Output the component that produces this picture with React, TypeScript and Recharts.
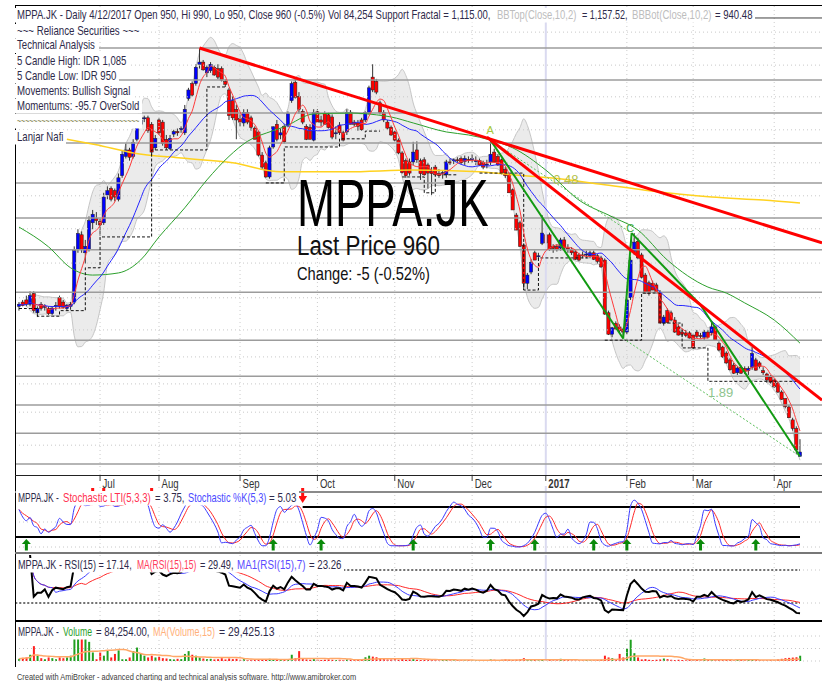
import React from "react";
import {
  ComposedChart,
  Bar,
  Line,
  Area,
  Scatter,
  XAxis,
  YAxis,
  ReferenceLine,
} from "recharts";

// MPPA.JK daily bars, Jun 2016 .. 12 Apr 2017 (one entry per trading day)
const opens = [
  1300, 1310, 1315, 1305, 1330, 1285, 1305, 1298, 1295, 1283,
  1300, 1320, 1310, 1295, 1300, 1310, 1432, 1467, 1425, 1432,
  1495, 1505, 1498, 1495, 1560, 1575, 1570, 1550, 1605, 1650,
  1665, 1650, 1690, 1725, 1738, 1740, 1725, 1670, 1735, 1730,
  1690, 1668, 1702, 1708, 1712, 1705, 1785, 1820, 1820, 1865,
  1870, 1845, 1850, 1858, 1855, 1855, 1825, 1805, 1780, 1760,
  1738, 1728, 1752, 1740, 1716, 1707, 1653, 1635, 1602, 1672,
  1725, 1700, 1720, 1723, 1780, 1823, 1790, 1755, 1720, 1718,
  1688, 1754, 1735, 1750, 1747, 1742, 1705, 1723, 1705, 1707,
  1752, 1730, 1728, 1735, 1735, 1752, 1835, 1825, 1775, 1752,
  1730, 1718, 1707, 1688, 1658, 1640, 1637, 1637, 1665, 1640,
  1642, 1630, 1615, 1625, 1610, 1610, 1607, 1637, 1640, 1642,
  1645, 1638, 1643, 1642, 1640, 1640, 1635, 1630, 1637, 1660,
  1650, 1642, 1620, 1608, 1572, 1513, 1495, 1443, 1354, 1380,
  1425, 1418, 1447, 1467, 1467, 1440, 1440, 1436, 1455, 1436,
  1432, 1427, 1420, 1420, 1420, 1418, 1425, 1418, 1413, 1408,
  1285, 1235, 1260, 1252, 1247, 1240, 1320, 1428, 1452, 1420,
  1373, 1355, 1354, 1350, 1333, 1261, 1290, 1285, 1268, 1252,
  1240, 1238, 1238, 1233, 1240, 1232, 1228, 1240, 1238, 1252,
  1214, 1205, 1191, 1175, 1163, 1145, 1158, 1155, 1150, 1158,
  1175, 1168, 1150, 1142, 1135, 1128, 1121, 1100, 1085, 1065,
  1035, 1015, 950,
];
const highs = [
  1310, 1315, 1325, 1335, 1335, 1300, 1310, 1305, 1300, 1300,
  1310, 1325, 1315, 1305, 1310, 1440, 1480, 1475, 1455, 1510,
  1525, 1520, 1505, 1565, 1580, 1580, 1575, 1610, 1665, 1680,
  1670, 1690, 1725, 1745, 1745, 1745, 1730, 1700, 1740, 1735,
  1700, 1700, 1712, 1715, 1720, 1770, 1810, 1825, 1865, 1903,
  1875, 1862, 1870, 1862, 1865, 1860, 1830, 1810, 1790, 1770,
  1750, 1760, 1760, 1745, 1720, 1710, 1660, 1640, 1675, 1720,
  1735, 1715, 1725, 1755, 1825, 1830, 1800, 1760, 1725, 1725,
  1760, 1760, 1745, 1755, 1752, 1748, 1720, 1730, 1710, 1760,
  1758, 1735, 1735, 1740, 1755, 1815, 1865, 1830, 1780, 1758,
  1735, 1722, 1710, 1692, 1662, 1645, 1645, 1684, 1685, 1645,
  1648, 1635, 1625, 1630, 1620, 1618, 1642, 1645, 1645, 1648,
  1650, 1652, 1650, 1655, 1650, 1645, 1640, 1642, 1688, 1668,
  1655, 1645, 1625, 1612, 1575, 1518, 1500, 1447, 1378, 1410,
  1430, 1425, 1513, 1475, 1472, 1445, 1445, 1460, 1462, 1445,
  1438, 1432, 1425, 1428, 1430, 1430, 1430, 1422, 1418, 1412,
  1290, 1252, 1265, 1258, 1250, 1320, 1415, 1471, 1460, 1425,
  1378, 1360, 1360, 1355, 1338, 1280, 1295, 1290, 1275, 1258,
  1245, 1245, 1242, 1236, 1245, 1238, 1245, 1245, 1262, 1255,
  1218, 1208, 1195, 1180, 1168, 1160, 1162, 1160, 1160, 1205,
  1180, 1172, 1158, 1145, 1140, 1132, 1125, 1104, 1085, 1070,
  1040, 1020, 990,
];
const lows = [
  1290, 1300, 1300, 1300, 1285, 1275, 1290, 1290, 1280, 1280,
  1290, 1295, 1295, 1290, 1292, 1305, 1425, 1425, 1400, 1428,
  1480, 1490, 1465, 1490, 1550, 1545, 1545, 1545, 1600, 1645,
  1640, 1645, 1685, 1720, 1730, 1705, 1650, 1665, 1700, 1675,
  1665, 1665, 1695, 1698, 1705, 1700, 1780, 1790, 1815, 1855,
  1850, 1835, 1845, 1838, 1830, 1825, 1812, 1735, 1735, 1690,
  1720, 1720, 1725, 1710, 1690, 1650, 1620, 1600, 1598, 1668,
  1685, 1690, 1680, 1718, 1775, 1785, 1750, 1725, 1688, 1690,
  1685, 1730, 1720, 1725, 1715, 1690, 1690, 1700, 1685, 1700,
  1725, 1720, 1710, 1710, 1730, 1748, 1800, 1795, 1748, 1730,
  1712, 1698, 1685, 1655, 1610, 1600, 1605, 1630, 1635, 1595,
  1605, 1575, 1560, 1605, 1600, 1598, 1600, 1630, 1632, 1635,
  1632, 1630, 1635, 1635, 1630, 1628, 1620, 1622, 1630, 1635,
  1628, 1608, 1600, 1565, 1525, 1478, 1439, 1338, 1340, 1375,
  1408, 1410, 1443, 1445, 1430, 1425, 1428, 1430, 1432, 1425,
  1420, 1408, 1405, 1412, 1412, 1412, 1408, 1400, 1390, 1280,
  1233, 1228, 1245, 1240, 1228, 1235, 1315, 1420, 1410, 1365,
  1330, 1325, 1338, 1330, 1260, 1255, 1260, 1265, 1238, 1232,
  1228, 1228, 1225, 1200, 1226, 1225, 1222, 1225, 1232, 1220,
  1195, 1180, 1166, 1150, 1142, 1140, 1142, 1142, 1140, 1152,
  1150, 1155, 1140, 1122, 1120, 1110, 1098, 1082, 1062, 1040,
  1010, 955, 950,
];
const closes = [
  1305, 1302, 1305, 1325, 1290, 1295, 1295, 1300, 1283, 1296,
  1302, 1300, 1298, 1303, 1305, 1430, 1470, 1432, 1440, 1500,
  1515, 1500, 1490, 1555, 1570, 1550, 1555, 1600, 1655, 1665,
  1648, 1682, 1720, 1735, 1740, 1710, 1660, 1692, 1705, 1680,
  1670, 1692, 1708, 1705, 1715, 1760, 1805, 1793, 1858, 1870,
  1852, 1858, 1865, 1840, 1835, 1828, 1818, 1745, 1740, 1735,
  1730, 1752, 1730, 1718, 1690, 1653, 1625, 1602, 1670, 1719,
  1690, 1705, 1684, 1750, 1820, 1788, 1760, 1730, 1690, 1690,
  1752, 1730, 1730, 1725, 1717, 1695, 1705, 1705, 1688, 1752,
  1725, 1725, 1720, 1712, 1752, 1810, 1805, 1800, 1752, 1735,
  1716, 1700, 1688, 1658, 1612, 1605, 1611, 1660, 1642, 1610,
  1607, 1611, 1610, 1607, 1605, 1612, 1637, 1635, 1642, 1640,
  1635, 1645, 1640, 1645, 1640, 1630, 1625, 1632, 1655, 1637,
  1630, 1610, 1605, 1565, 1525, 1478, 1440, 1354, 1373, 1403,
  1408, 1418, 1471, 1448, 1432, 1435, 1432, 1455, 1436, 1432,
  1425, 1410, 1408, 1418, 1422, 1425, 1410, 1405, 1392, 1282,
  1235, 1250, 1247, 1243, 1240, 1315, 1408, 1450, 1413, 1368,
  1331, 1330, 1338, 1333, 1261, 1275, 1262, 1268, 1240, 1233,
  1235, 1232, 1226, 1203, 1230, 1230, 1240, 1228, 1252, 1221,
  1198, 1182, 1168, 1152, 1144, 1156, 1144, 1148, 1155, 1190,
  1151, 1160, 1145, 1128, 1123, 1112, 1100, 1083, 1066, 1040,
  1015, 965, 960,
];
const volumes = [
  35000, 50000, 57000, 100000, 238000, 85000, 45000, 28000, 57000, 45000,
  28000, 57000, 45000, 57000, 85000, 357000, 369000, 357000, 357000, 306000,
  136000, 28000, 136000, 85000, 170000, 57000, 113000, 170000, 28000, 28000,
  57000, 158000, 215000, 113000, 85000, 57000, 85000, 57000, 68000, 45000,
  40000, 30000, 25000, 35000, 30000, 113000, 158000, 100000, 85000, 57000,
  40000, 30000, 35000, 25000, 30000, 45000, 25000, 40000, 30000, 35000,
  20000, 30000, 15000, 20000, 25000, 30000, 25000, 20000, 35000, 28000,
  15000, 15000, 20000, 30000, 100000, 45000, 158000, 30000, 25000, 20000,
  30000, 20000, 15000, 20000, 25000, 20000, 15000, 20000, 15000, 25000,
  20000, 15000, 20000, 25000, 60000, 85000, 70000, 60000, 40000, 30000,
  25000, 25000, 30000, 20000, 35000, 20000, 25000, 30000, 20000, 15000,
  20000, 15000, 25000, 15000, 10000, 15000, 20000, 10000, 10000, 15000,
  10000, 10000, 15000, 10000, 10000, 15000, 10000, 15000, 25000, 20000,
  15000, 20000, 25000, 20000, 15000, 20000, 25000, 45000, 20000, 15000,
  20000, 10000, 30000, 20000, 15000, 10000, 10000, 35000, 25000, 15000,
  10000, 10000, 10000, 10000, 15000, 10000, 10000, 15000, 20000, 85000,
  57000, 45000, 25000, 113000, 57000, 200000, 340000, 125000, 57000, 25000,
  30000, 20000, 15000, 20000, 25000, 40000, 30000, 20000, 15000, 20000,
  15000, 10000, 15000, 20000, 15000, 10000, 40000, 20000, 30000, 15000,
  20000, 15000, 20000, 15000, 10000, 25000, 15000, 10000, 15000, 20000,
  20000, 15000, 10000, 10000, 15000, 15000, 25000, 35000, 45000, 50000,
  55000, 60000, 84254,
];

// date strip
const monthIdx = [22, 38, 60, 81, 102, 123, 143, 165, 183, 205];
const monthLabels = ["Jul", "Aug", "Sep", "Oct", "Nov", "Dec", "2017", "Feb", "Mar", "Apr"];

// slow averages at a few bars
const ma50Idx = [0, 8, 14, 20, 27, 33, 38, 45, 51, 57, 62, 69, 72, 80, 90, 97, 101, 107, 116, 122, 128, 134, 143, 152, 161, 168, 176, 187, 192, 197, 205, 212];
const ma50Val = [1485, 1439, 1390, 1373, 1378, 1408, 1462, 1530, 1595, 1650, 1685, 1710, 1719, 1749, 1751, 1747, 1742, 1728, 1707, 1700, 1688, 1670, 1618, 1548, 1509, 1478, 1408, 1345, 1331, 1308, 1268, 1214];
const ma200Idx = [13, 21, 31, 44, 58, 71, 89, 107, 125, 134, 144, 158, 170, 188, 202, 212];
const ma200Val = [1690, 1677, 1658, 1646, 1635, 1614, 1614, 1618, 1614, 1607, 1600, 1585, 1571, 1555, 1548, 1541];

// support fractal steps: [first bar, last bar, level]
const supportSteps = [
  [0, 4, 1295], [5, 10, 1277], [11, 17, 1290], [18, 21, 1390], [22, 35, 1462],
  [36, 50, 1665], [51, 56, 1812], [67, 71, 1588], [72, 86, 1672], [87, 93, 1691],
  [94, 98, 1709], [104, 109, 1602], [110, 112, 1565], [113, 119, 1607], [125, 136, 1611],
  [137, 140, 1338], [141, 155, 1413], [159, 168, 1221], [169, 173, 1331], [174, 179, 1261],
  [180, 186, 1203], [187, 212, 1125],
];

// horizontal price levels
const solidLevels = [1903, 1828, 1751, 1681, 1588, 1506, 1432, 1333, 1221, 1137, 1070, 1004, 932];
const dottedLevels = [1940, 1863, 1789, 1712, 1635, 1558, 1481, 1401, 1320, 1245, 1182, 1119, 1053, 976];

// trendlines
const redTrends = [
  [49, 1903, 217.97, 1448],
  [127, 1695, 217.97, 1081],
];
const waveIdx = [128, 164, 166.3, 185, 212];
const waveVal = [1688, 1225, 1471, 1303, 950];
const waveDotted = [
  [128, 1688, 166.3, 1471],
  [164, 1225, 212, 950],
];
const chartLabels = [
  { i: 127.9, v: 1702, text: "A", color: "#a6c838", size: 11, anchor: "middle" },
  { i: 165.9, v: 1474, text: "C", color: "#3aa83a", size: 11, anchor: "middle" },
  { i: 145, v: 1585, text: "0.48", color: "#b4c24a", size: 13, anchor: "start" },
  { i: 187, v: 1088, text: "1.89", color: "#8ec48e", size: 13, anchor: "start" },
];

// stochastic signals
const buyIdx = [2, 69, 82, 107, 128, 140, 156, 165, 185, 200];
const sellIdx = [77];
const sellHiddenIdx = [20, 23, 36];

const X_DOMAIN = [-1.086, 217.97];
const PRICE_DOMAIN = [906.4, 2003.3];
const FONT = "'Liberation Sans', Arial, sans-serif";
const DARK = "#2e2a4a";

// Arial / Liberation Sans advance widths (1/1000 em), used to squeeze texts to the reference widths
const GLYPH_W = {};
"ABCDEFGHIJKLMNOPQRSTUVWXYZ".split("").forEach((ch, k) => {
  GLYPH_W[ch] = [667, 667, 722, 722, 667, 611, 778, 722, 278, 500, 667, 556, 833, 722, 778, 667, 778, 722, 667, 611, 722, 667, 944, 667, 667, 611][k];
});
"abcdefghijklmnopqrstuvwxyz".split("").forEach((ch, k) => {
  GLYPH_W[ch] = [556, 556, 500, 556, 556, 278, 556, 556, 222, 222, 500, 222, 833, 556, 556, 556, 556, 333, 500, 278, 556, 500, 722, 500, 500, 500][k];
});
"0123456789".split("").forEach((ch) => (GLYPH_W[ch] = 556));
Object.assign(GLYPH_W, { " ": 278, "%": 889, "(": 333, ")": 333, ",": 278, "-": 333, ".": 278, "/": 278, ":": 278, "=": 584, "~": 584 });

function naturalWidth(s, size) {
  let w = 0;
  for (const ch of s) w += GLYPH_W[ch] ?? 556;
  return (w * size) / 1000;
}

function FitText({ x, y, w, size, fill, children }) {
  const sx = w / naturalWidth(children, size);
  return (
    <text transform={`translate(${x},${y}) scale(${sx.toFixed(4)},1)`} fontSize={size} fill={fill} fontFamily={FONT}>
      {children}
    </text>
  );
}

function sma(src, n) {
  return src.map((_, i) => {
    const w = src.slice(Math.max(0, i - n + 1), i + 1).filter((v) => v != null);
    return w.length ? w.reduce((a, b) => a + b, 0) / w.length : null;
  });
}

function rsiOf(c, n) {
  const out = [null];
  let ag = 0;
  let al = 0;
  for (let i = 1; i < c.length; i++) {
    const d = c[i] - c[i - 1];
    const g = Math.max(d, 0);
    const l = Math.max(-d, 0);
    const k = Math.min(i, n);
    ag = (ag * (k - 1) + g) / k;
    al = (al * (k - 1) + l) / k;
    out.push(i < 3 ? null : al === 0 ? 100 : 100 - 100 / (1 + ag / al));
  }
  return out;
}

const ma5 = sma(closes, 5);
const ma20 = sma(closes, 20);
const volMa = sma(volumes, 15);
const rsi = rsiOf(closes, 15);
const rsiMa15 = sma(rsi, 15);
const rsiMa7 = sma(rsi, 7);

const llv = closes.map((_, i) => Math.min(...lows.slice(Math.max(0, i - 4), i + 1)));
const hhv = closes.map((_, i) => Math.max(...highs.slice(Math.max(0, i - 4), i + 1)));
const stochK = closes.map((_, i) => {
  let a = 0;
  let b = 0;
  for (let k = Math.max(0, i - 2); k <= i; k++) {
    a += closes[k] - llv[k];
    b += hhv[k] - llv[k];
  }
  return b ? (100 * a) / b : 50;
});
const stochD = sma(stochK, 3);

const rows = closes.map((c, i) => {
  let bb = null;
  if (i >= 2) {
    const w = closes.slice(Math.max(0, i - 9), i + 1);
    const m = w.reduce((a, b) => a + b, 0) / w.length;
    const sd = Math.sqrt(w.reduce((a, b) => a + (b - m) * (b - m), 0) / w.length);
    bb = [m - 2 * sd, m + 2 * sd];
  }
  const step = supportSteps.find((s) => i >= s[0] && i <= s[1]);
  const g = ma50Idx.indexOf(i);
  const y = ma200Idx.indexOf(i);
  return {
    i,
    open: opens[i],
    high: highs[i],
    low: lows[i],
    close: c,
    range: [lows[i], highs[i]],
    ma5: i >= 4 ? ma5[i] : null,
    ma20: ma20[i],
    ma50: g >= 0 ? ma50Val[g] : null,
    ma200: y >= 0 ? ma200Val[y] : null,
    bb,
    support: step ? step[2] : null,
    vol: volumes[i],
    volMa: volMa[i],
    rsi: rsi[i],
    rsiMa15: rsiMa15[i],
    rsiMa7: rsiMa7[i],
    stochK: stochK[i],
    stochD: stochD[i],
  };
});

const buyPts = buyIdx.map((i) => ({ i, v: 4 }));
const sellPts = sellIdx.map((i) => ({ i, v: 102 }));
const sellHiddenPts = sellHiddenIdx.map((i) => ({ i, v: 110 }));

function Candle(props) {
  const { x, y, width, height, payload } = props;
  if (!payload || height == null) return null;
  const top = Math.min(y, y + height);
  const h = Math.abs(height);
  const span = payload.high - payload.low || 1;
  const yAt = (v) => top + ((payload.high - v) / span) * h;
  const cx = x + width / 2;
  const up = payload.close >= payload.open;
  const bTop = yAt(Math.max(payload.open, payload.close));
  const bH = Math.max(1, yAt(Math.min(payload.open, payload.close)) - bTop);
  return (
    <g>
      <line x1={cx} x2={cx} y1={top} y2={top + h} stroke="#333" strokeWidth={1} />
      <rect x={cx - 1.6} y={bTop} width={3.2} height={bH} fill={up ? "#0000ff" : "#ff0000"} stroke="#222" strokeWidth={0.5} />
    </g>
  );
}

function VolBar(props) {
  const { x, y, width, height, payload } = props;
  if (!payload || !height) return null;
  const up = payload.close >= payload.open;
  return <rect x={x + width / 2 - 1} y={y} width={2} height={height} fill={up ? "#1fa01f" : "#ff2020"} />;
}

function UpArrow(props) {
  const { cx, cy } = props;
  return (
    <g fill="#0a8a0a">
      <polygon points={`${cx},${cy - 6} ${cx - 4.5},${cy - 1} ${cx + 4.5},${cy - 1}`} />
      <rect x={cx - 1.5} y={cy - 1.5} width={3} height={7} />
    </g>
  );
}

function DownArrow(props) {
  const { cx, cy } = props;
  return (
    <g fill="#ff1010">
      <rect x={cx - 1.5} y={cy - 8} width={3} height={8} />
      <polygon points={`${cx},${cy + 7} ${cx - 4.5},${cy} ${cx + 4.5},${cy}`} />
    </g>
  );
}

function SellStub(props) {
  const { cx, cy } = props;
  return <rect x={cx - 1.5} y={cy - 4} width={3} height={5} fill="#ff1010" />;
}

function ChartLabel(props) {
  const { cx, cy, payload } = props;
  return (
    <text x={cx} y={cy} fill={payload.color} fontSize={payload.size} textAnchor={payload.anchor} fontFamily={FONT}>
      {payload.text}
    </text>
  );
}

function MonthTick(props) {
  const { x, y, payload } = props;
  const label = monthLabels[monthIdx.indexOf(payload.value)];
  return (
    <g>
      <line x1={x} x2={x} y1={y + 1} y2={y + 6} stroke="#404040" />
      <text
        transform={`translate(${x + 2.5},${y + 12.5}) scale(0.8,1)`}
        fontSize={12}
        fontWeight={label === "2017" ? "bold" : "normal"}
        fill="#333"
        fontFamily={FONT}
      >
        {label}
      </text>
    </g>
  );
}

function monthLines(keyPrefix) {
  return monthIdx.map((m) =>
    m === 143 ? (
      <ReferenceLine key={keyPrefix + m} x={m} stroke="#dadaf0" strokeWidth={2} />
    ) : (
      <ReferenceLine key={keyPrefix + m} x={m} stroke="#cccccc" strokeDasharray="1 3" />
    )
  );
}

// one title row: white backing plus text pieces, each squeezed between x0 and x1
function TitleRow({ y, parts, size = 12, bg = true }) {
  const x0 = parts[0][2];
  const x1 = parts[parts.length - 1][3];
  return (
    <g>
      {bg && <rect x={x0 - 2} y={y - 10.5} width={x1 - x0 + 4} height={14.5} fill="#fff" />}
      {parts.map((p, k) => (
        <FitText key={k} x={p[2]} y={y} w={p[3] - p[2] - 0.5} size={size} fill={p[1]}>
          {p[0]}
        </FitText>
      ))}
    </g>
  );
}

const xBase = { dataKey: "i", type: "number", domain: X_DOMAIN, allowDataOverflow: true };

export default function App() {
  return (
    <div style={{ position: "absolute", left: 0, top: 0, width: 822, height: 681, background: "#fff", overflow: "hidden" }}>
      {/* price panel */}
      <div style={{ position: "absolute", left: 0, top: 0 }}>
        <ComposedChart width={822} height={492} data={rows} margin={{ top: 5, right: 0, bottom: 0, left: 15 }}>
          <XAxis
            {...xBase}
            ticks={monthIdx}
            interval={0}
            height={17}
            tickSize={0}
            tickMargin={0}
            axisLine={false}
            tickLine={false}
            tick={MonthTick}
          />
          <YAxis hide type="number" domain={PRICE_DOMAIN} allowDataOverflow />
          {dottedLevels.map((v) => (
            <ReferenceLine key={"d" + v} y={v} stroke="#c8c8c8" strokeDasharray="1 3" />
          ))}
          {monthLines("pm")}
          <Area dataKey="bb" type="monotone" stroke="#c6c6c6" fill="#e8e8e8" fillOpacity={0.85} isAnimationActive={false} />
          {solidLevels.map((v) => (
            <ReferenceLine key={"s" + v} y={v} stroke="#9c9c9c" strokeWidth={1.5} />
          ))}
          <ReferenceLine y={1973} stroke="#404040" />
          <Line dataKey="ma200" type="monotone" stroke="#ffd21f" strokeWidth={1.5} dot={false} connectNulls isAnimationActive={false} />
          <Line dataKey="ma50" type="monotone" stroke="#2ca02c" strokeWidth={1} dot={false} connectNulls isAnimationActive={false} />
          <Line dataKey="ma20" type="monotone" stroke="#2626ff" strokeWidth={1} dot={false} isAnimationActive={false} />
          <Line dataKey="support" type="stepAfter" stroke="#111" strokeWidth={1} strokeDasharray="3 2" dot={false} isAnimationActive={false} />
          <Bar dataKey="range" barSize={3} shape={Candle} isAnimationActive={false} />
          <Line dataKey="ma5" type="monotone" stroke="#ff3a3a" strokeWidth={1} dot={false} isAnimationActive={false} />
          {waveDotted.map((s, k) => (
            <ReferenceLine key={"wd" + k} segment={[{ x: s[0], y: s[1] }, { x: s[2], y: s[3] }]} stroke="#5cc05c" strokeDasharray="2 2" ifOverflow="hidden" />
          ))}
          {waveIdx.slice(1).map((_, k) => (
            <ReferenceLine
              key={"w" + k}
              segment={[{ x: waveIdx[k], y: waveVal[k] }, { x: waveIdx[k + 1], y: waveVal[k + 1] }]}
              stroke="#119a11"
              strokeWidth={2}
              ifOverflow="hidden"
            />
          ))}
          {redTrends.map((s, k) => (
            <ReferenceLine key={"r" + k} segment={[{ x: s[0], y: s[1] }, { x: s[2], y: s[3] }]} stroke="#ff0000" strokeWidth={3} ifOverflow="hidden" />
          ))}
          <Scatter data={chartLabels} dataKey="v" shape={ChartLabel} isAnimationActive={false} />
        </ComposedChart>
      </div>

      {/* stochastic panel */}
      <div style={{ position: "absolute", left: 0, top: 484 }}>
        <ComposedChart width={822} height={70} data={rows} margin={{ top: 2, right: 0, bottom: 2, left: 15 }}>
          <XAxis {...xBase} hide />
          <YAxis hide type="number" domain={[-10, 122]} allowDataOverflow />
          <ReferenceLine y={50} stroke="#c8c8c8" strokeDasharray="1 3" />
          <ReferenceLine y={0} stroke="#c8c8c8" strokeDasharray="1 3" />
          {monthLines("sm")}
          <ReferenceLine segment={[{ x: -1, y: 20 }, { x: 212, y: 20 }]} stroke="#000" strokeWidth={2} />
          <ReferenceLine segment={[{ x: 77, y: 80 }, { x: 212, y: 80 }]} stroke="#000" strokeWidth={2} />
          <Line dataKey="stochD" type="monotone" stroke="#ff2a2a" strokeWidth={1} dot={false} isAnimationActive={false} />
          <Line dataKey="stochK" type="monotone" stroke="#3a3aff" strokeWidth={1} dot={false} isAnimationActive={false} />
          <Scatter data={buyPts} dataKey="v" shape={UpArrow} isAnimationActive={false} />
          <Scatter data={sellPts} dataKey="v" shape={DownArrow} isAnimationActive={false} />
          <Scatter data={sellHiddenPts} dataKey="v" shape={SellStub} isAnimationActive={false} />
        </ComposedChart>
      </div>

      {/* RSI panel */}
      <div style={{ position: "absolute", left: 0, top: 553 }}>
        <ComposedChart width={822} height={68} data={rows} margin={{ top: 2, right: 0, bottom: 1, left: 15 }}>
          <XAxis {...xBase} hide />
          <YAxis hide type="number" domain={[9.4, 88.2]} allowDataOverflow />
          {monthLines("rm")}
          <ReferenceLine y={70} stroke="#c8c8c8" strokeDasharray="1 3" />
          <ReferenceLine y={30} stroke="#c8c8c8" strokeDasharray="1 3" />
          <ReferenceLine segment={[{ x: -1, y: 70 }, { x: 212, y: 70 }]} stroke="#444" strokeWidth={1.5} strokeDasharray="2 2" />
          <ReferenceLine segment={[{ x: -1, y: 30 }, { x: 212, y: 30 }]} stroke="#444" strokeWidth={1.5} strokeDasharray="2 2" />
          <Line dataKey="rsiMa15" type="monotone" stroke="#ff2a2a" strokeWidth={1} dot={false} isAnimationActive={false} />
          <Line dataKey="rsiMa7" type="monotone" stroke="#3a3aff" strokeWidth={1} dot={false} isAnimationActive={false} />
          <Line dataKey="rsi" type="linear" stroke="#000" strokeWidth={2} dot={false} isAnimationActive={false} />
        </ComposedChart>
      </div>

      {/* volume panel */}
      <div style={{ position: "absolute", left: 0, top: 621 }}>
        <ComposedChart width={822} height={48} data={rows} margin={{ top: 1, right: 0, bottom: 8, left: 15 }}>
          <XAxis {...xBase} hide />
          <YAxis hide type="number" domain={[0, 624000]} allowDataOverflow />
          {monthLines("vm")}
          <ReferenceLine y={400000} stroke="#c8c8c8" strokeDasharray="1 3" />
          <ReferenceLine y={200000} stroke="#c8c8c8" strokeDasharray="1 3" />
          <ReferenceLine y={0} stroke="#c8c8c8" strokeDasharray="1 3" />
          <Bar dataKey="vol" barSize={2} shape={VolBar} isAnimationActive={false} />
          <Line dataKey="volMa" type="monotone" stroke="#ffa868" strokeWidth={1.5} dot={false} isAnimationActive={false} />
        </ComposedChart>
      </div>

      {/* frame, titles and notes */}
      <svg width={822} height={681} style={{ position: "absolute", left: 0, top: 0, pointerEvents: "none" }}>
        <line x1={15} x2={822} y1={5.5} y2={5.5} stroke="#000" />
        <line x1={15.5} x2={15.5} y1={5} y2={667} stroke="#000" />
        <line x1={15} x2={822} y1={475.5} y2={475.5} stroke="#222" />
        <line x1={15} x2={822} y1={492} y2={492} stroke="#8a8a8a" strokeWidth={2} />
        <line x1={15} x2={822} y1={553} y2={553} stroke="#777" strokeWidth={2} />
        <line x1={15} x2={822} y1={621} y2={621} stroke="#000" strokeWidth={2} />

        <TitleRow
          y={18.5}
          parts={[
            ["MPPA.JK - Daily 4/12/2017 Open 950, Hi 990, Lo 950, Close 960 (-0.5%) Vol 84,254 Support Fractal = 1,115.00,", DARK, 17, 493],
            ["BBTop(Close,10,2)", "#bdbdbd", 497, 578],
            ["= 1,157.52,", DARK, 582, 628],
            ["BBBot(Close,10,2)", "#bdbdbd", 632, 712],
            ["= 940.48", DARK, 715, 753],
          ]}
        />
        <TitleRow y={34.5} parts={[["~~~ Reliance Securities ~~~", DARK, 17, 140]]} />
        <TitleRow y={49} parts={[["Technical Analysis", DARK, 17, 97]]} />
        <TitleRow y={64.5} parts={[["5 Candle High: IDR 1,085", DARK, 17, 127]]} />
        <TitleRow y={79.5} parts={[["5 Candle Low: IDR 950", DARK, 17, 117]]} />
        <TitleRow y={94.5} parts={[["Movements: Bullish Signal", DARK, 17, 131]]} />
        <TitleRow y={109.5} parts={[["Momentums: -95.7 OverSold", DARK, 17, 140]]} />
        <TitleRow y={124.5} parts={[["~~~~~~~~~~~~~~~~~~~~~~~~~~~~~~", "#8a8a5a", 17, 140]]} />
        <TitleRow y={140.5} parts={[["Lanjar Nafi", DARK, 17, 64]]} />

        <FitText x={297} y={226} w={195} size={66} fill="#000">
          MPPA.JK
        </FitText>
        <FitText x={297} y={255} w={143} size={28} fill="#111">
          Last Price 960
        </FitText>
        <FitText x={297} y={280} w={133} size={18} fill="#111">
          Change: -5 (-0.52%)
        </FitText>

        <TitleRow
          y={501.5}
          parts={[
            ["MPPA.JK -", DARK, 18, 60],
            ["Stochastic LTI(5,3,3)", "#ff3050", 63, 152],
            ["= 3.75,", DARK, 155, 185],
            ["Stochastic %K(5,3)", "#4a4aff", 188, 267],
            ["= 5.03", DARK, 269, 297],
          ]}
        />
        <TitleRow
          y={568.5}
          parts={[
            ["MPPA.JK - RSI(15) = 17.14,", DARK, 18, 133],
            ["MA(RSI(15),15)", "#ff3a5a", 137, 197],
            ["= 29.49,", DARK, 200, 234],
            ["MA1(RSI(15),7)", "#5a4aff", 237, 306],
            ["= 23.26", DARK, 309, 342],
          ]}
        />
        <TitleRow
          y={635.5}
          parts={[
            ["MPPA.JK -", DARK, 18, 60],
            ["Volume", "#2aa02a", 63, 93],
            ["= 84,254.00,", DARK, 96, 150],
            ["MA(Volume,15)", "#ffb07a", 153, 216],
            ["= 29,425.13", DARK, 219, 275],
          ]}
        />
        <FitText x={17} y={679.5} w={341} size={9.5} fill="#404040">
          Created with AmiBroker - advanced charting and technical analysis software. http://www.amibroker.com
        </FitText>
      </svg>
    </div>
  );
}
